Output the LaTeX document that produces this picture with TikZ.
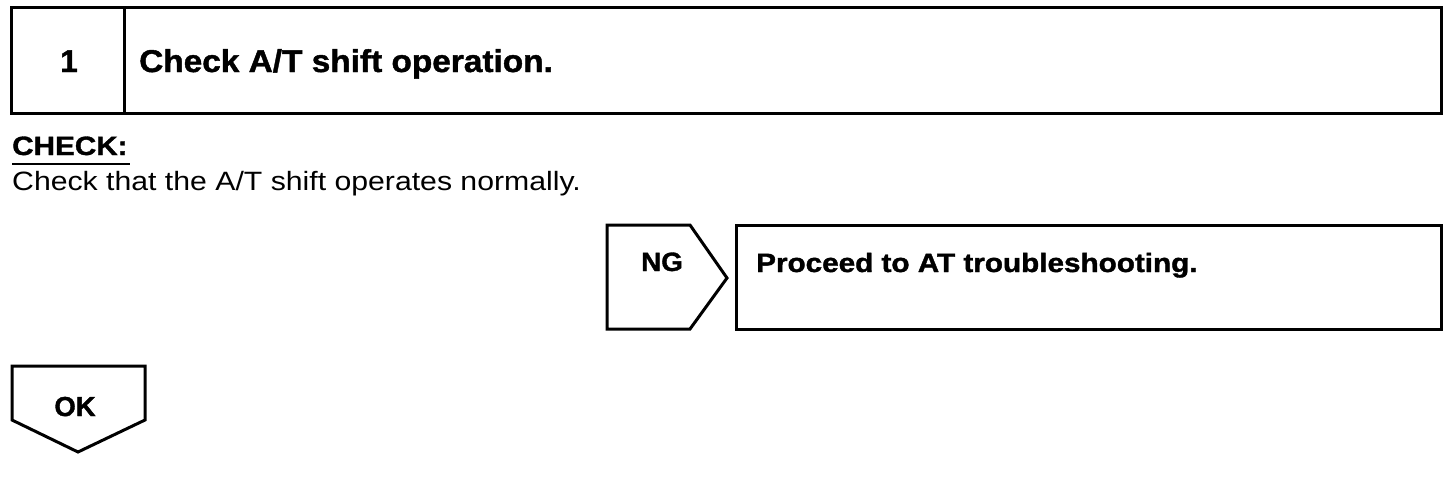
\documentclass[tikz,border=0pt]{standalone}
\usepackage{fontspec}
\usepackage{graphicx}
\setmainfont{Liberation Sans}[BoldFeatures={FakeBold=1.3}]
\newcommand\wide[2]{\scalebox{#1}[1]{#2}}
\begin{document}
\begin{tikzpicture}[x=1pt,y=-1pt,
  frame/.style={draw=black,line width=3pt,line join=miter},
  txt/.style={inner sep=0pt,anchor=base west},
  bigb/.style={font=\fontsize{31.5}{34}\selectfont\bfseries},
  midb/.style={font=\fontsize{26.5}{30}\selectfont\bfseries},
  plain/.style={font=\fontsize{26.5}{30}\selectfont}]
\useasboundingbox (0,0) rectangle (1456,480);
% top step box
\draw[frame] (11,7) rectangle (1441,113);
\draw[frame] (124,7) -- (124,113);
\node[txt,bigb,anchor=base] (num) at (69,72) {1};
\node[txt,bigb] (title) at (139,72) {\wide{1.06}{Check A/T shift operation.}};
% check label
\node[txt,font=\fontsize{26.5}{30}\selectfont\bfseries] (chk) at (12,155) {\wide{1.12}{CHECK:}};
\draw[line width=2pt] (12,164) -- (130,164);
\node[txt,plain] (desc) at (12,190) {\wide{1.14}{Check that the A/T shift operates normally.}};
% NG
\draw[frame] (607,225) -- (690,225) -- (727,278) -- (690,329) -- (607,329) -- cycle;
\node[txt,midb,anchor=base] (ng) at (662,271) {\wide{1.05}{NG}};
\draw[frame] (736,225) rectangle (1441,329);
\node[txt,midb] (res) at (756,272) {\wide{1.12}{Proceed to AT troubleshooting.}};
% OK
\draw[frame] (12,366) -- (145,366) -- (145,420) -- (78,452) -- (12,420) -- cycle;
\node[txt,font=\fontsize{27.5}{30}\selectfont\bfseries,anchor=base] (ok) at (75,416) {OK};
\end{tikzpicture}
\end{document}
